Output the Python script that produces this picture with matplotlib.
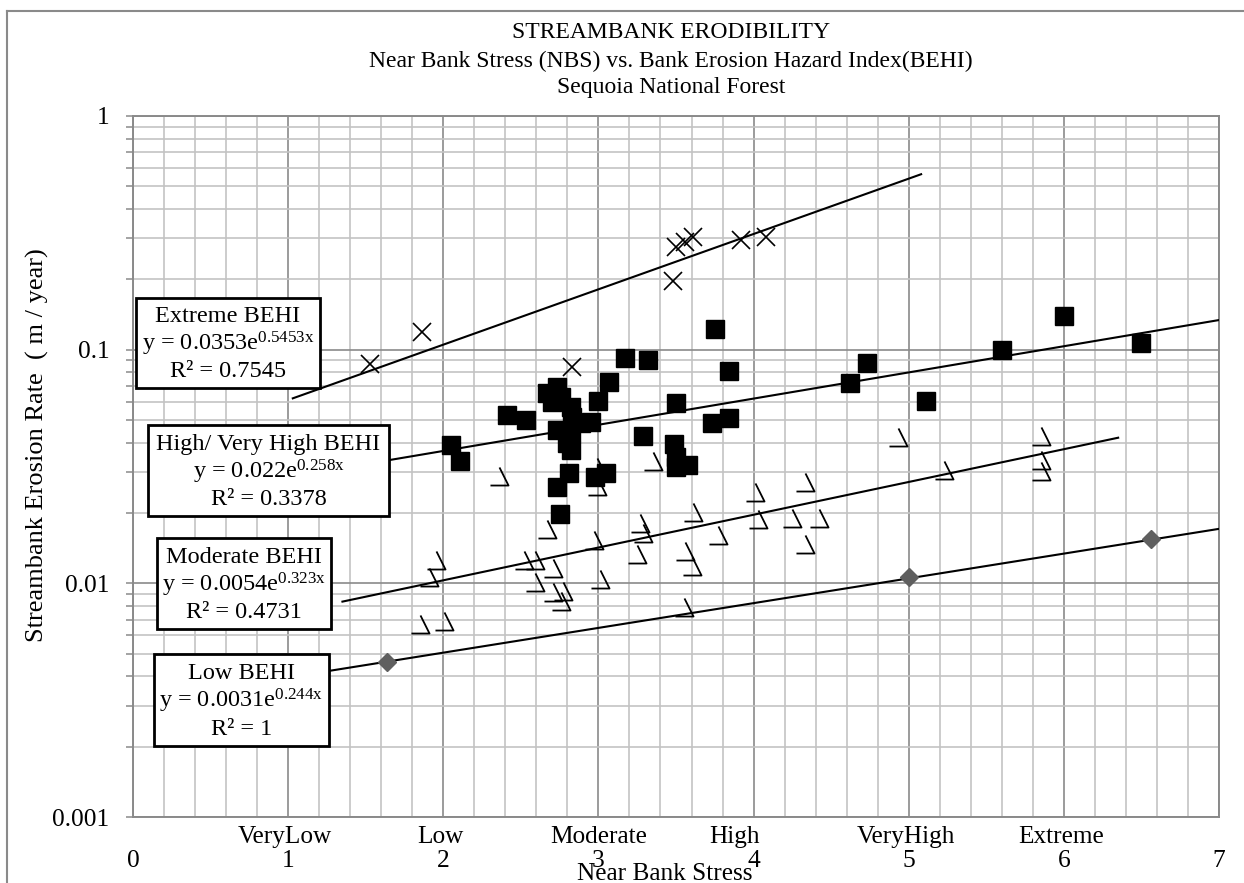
import numpy as np
import matplotlib
matplotlib.use("Agg")
import matplotlib.pyplot as plt
from matplotlib.path import Path
from matplotlib.patches import Rectangle
from matplotlib.lines import Line2D
from matplotlib.ticker import MultipleLocator, FixedLocator, LogLocator, NullFormatter

plt.rcParams['font.family'] = ['Liberation Serif', 'DejaVu Serif']
plt.rcParams['mathtext.fontset'] = 'custom'
plt.rcParams['mathtext.rm'] = 'Liberation Serif'
plt.rcParams['mathtext.it'] = 'Liberation Serif:italic'

# ---------------- data ----------------
title_lines = ["STREAMBANK ERODIBILITY",
               "Near Bank Stress (NBS) vs. Bank Erosion Hazard Index(BEHI)",
               "Sequoia National Forest"]
x_title = "Near Bank Stress"
y_title = "Streambank Erosion Rate  ( m / year)"
x_ticks = [0, 1, 2, 3, 4, 5, 6, 7]
y_ticks = [0.001, 0.01, 0.1, 1]
y_ticklabels = ["0.001", "0.01", "0.1", "1"]
categories = ["VeryLow", "Low", "Moderate", "High", "VeryHigh", "Extreme"]
category_x = [0.98, 1.98, 3.0, 3.88, 4.98, 5.98]

extreme_x = [1.53, 1.86, 2.83, 3.48, 3.50, 3.56, 3.61, 3.92, 4.08]
extreme_y = [0.087, 0.119, 0.084, 0.197, 0.276, 0.290, 0.304, 0.294, 0.303]

high_x = [2.05, 2.11, 2.41, 2.53, 2.67, 2.70, 2.73, 2.76, 2.82, 2.83, 2.73, 2.89,
          2.95, 3.00, 3.07, 3.17, 3.32, 3.75, 3.84, 3.50, 3.73, 3.84, 3.29, 3.49,
          3.50, 3.58, 3.50, 2.82, 2.80, 2.81, 2.73, 2.98, 3.05, 2.75, 2.82,
          4.62, 4.73, 5.11, 5.60, 6.00, 6.50]
high_y = [0.0391, 0.0334, 0.0525, 0.0500, 0.0650, 0.0600, 0.0694, 0.0630, 0.0570, 0.0516, 0.0453, 0.0484,
          0.0490, 0.0605, 0.0727, 0.0924, 0.0903, 0.1226, 0.0810, 0.0589, 0.0484, 0.0508, 0.0428, 0.0394,
          0.0348, 0.0321, 0.0316, 0.0372, 0.0400, 0.0296, 0.0259, 0.0286, 0.0296, 0.0198, 0.0445,
          0.0722, 0.0875, 0.0605, 0.1000, 0.1390, 0.1070]

moderate_x = [1.85, 2.005, 1.91, 1.95, 2.36, 2.52, 2.59, 2.59, 2.67, 2.71, 2.71, 2.77,
              2.76, 2.97, 2.99, 2.99, 3.01, 3.27, 3.29, 3.25, 3.35, 3.61, 3.77, 3.56,
              3.60, 3.55, 4.01, 4.03, 4.25, 4.42, 4.33, 4.33, 4.93, 5.23, 5.85, 5.85, 5.85]
moderate_y = [0.00668, 0.00688, 0.01067, 0.01259, 0.0289, 0.01259, 0.01259, 0.0101, 0.0170, 0.01163, 0.00918, 0.0093,
              0.0084, 0.01537, 0.0261, 0.0316, 0.01047, 0.0181, 0.0164, 0.0133, 0.0333, 0.0201, 0.01605, 0.0138,
              0.01186, 0.00794, 0.0247, 0.0188, 0.0190, 0.0190, 0.0272, 0.0147, 0.0422, 0.0305, 0.0427, 0.0337, 0.0303]

low_x = [1.64, 5.0, 6.56]
low_y = [0.0046, 0.0106, 0.0155]

# trendlines y = a*exp(b*x) drawn over [x_from, x_to]
fit_a = [0.0353, 0.022, 0.0054, 0.0031]
fit_b = [0.5453, 0.258, 0.323, 0.244]
fit_from = [1.03, 1.5, 1.35, 1.1]
fit_to = [5.08, 7.0, 6.35, 7.0]

box_names = ["Extreme BEHI", "High/ Very High BEHI", "Moderate BEHI", "Low BEHI"]
box_coef = ["0.0353", "0.022", "0.0054", "0.0031"]
box_exp = ["0.5453x", "0.258x", "0.323x", "0.244x"]
box_r2 = ["0.7545", "0.3378", "0.4731", "1"]

# ---------------- figure ----------------
W, H = 1244, 883
fig = plt.figure(figsize=(W / 100, H / 100), dpi=100)


def fx(px):
    return px / W


def fy(py):
    return 1 - py / H


L, R, T, B = 133, 1219, 116, 817
ax = fig.add_axes([fx(L), fy(B), (R - L) / W, (B - T) / H])
ax.set_yscale('log')
ax.set_xlim(0, 7)
ax.set_ylim(0.001, 1)

ax.set_axisbelow(True)
ax.xaxis.set_major_locator(FixedLocator(x_ticks))
ax.xaxis.set_minor_locator(MultipleLocator(0.2))
ax.yaxis.set_major_locator(FixedLocator(y_ticks))
ax.yaxis.set_minor_locator(LogLocator(base=10, subs=np.arange(2, 10)))
ax.yaxis.set_minor_formatter(NullFormatter())
ax.set_xticklabels([str(v) for v in x_ticks])
ax.set_yticklabels(y_ticklabels)
ax.grid(which='minor', color='#c3c3c3', lw=1.2)
ax.grid(which='major', color='#8a8a8a', lw=1.2)
ax.tick_params(axis='y', which='both', direction='out', length=5, width=1.1,
               color='#8a8a8a', pad=12, labelsize=18.4)
ax.tick_params(axis='x', which='both', length=0, pad=24, labelsize=18.4)
for s in ax.spines.values():
    s.set_color('#8a8a8a')
    s.set_linewidth(1.4)

# trendlines
for a, b, x0, x1 in zip(fit_a, fit_b, fit_from, fit_to):
    xs = np.linspace(x0, x1, 200)
    ax.plot(xs, a * np.exp(b * xs), color='black', lw=1.5, zorder=3)

# series
mod_marker = Path([(0, 0.5), (0.5, -0.5), (-0.5, -0.5)],
                  [Path.MOVETO, Path.LINETO, Path.LINETO])
ax.plot(moderate_x, moderate_y, ls='none', marker=mod_marker, ms=13,
        mfc='none', mec='black', mew=1.3, zorder=4)
ax.plot(high_x, high_y, ls='none', marker='s', ms=13, mfc='black',
        mec='black', mew=1, zorder=4)
ax.plot(extreme_x, extreme_y, ls='none', marker='x', ms=13, mec='black',
        mew=1.2, zorder=4)
ax.plot(low_x, low_y, ls='none', marker='D', ms=9, mfc='#5f5f5f',
        mec='#5f5f5f', zorder=4)

# category labels under the axis
for name, cx in zip(categories, category_x):
    ax.annotate(name, xy=(cx, 0), xycoords=ax.get_xaxis_transform(),
                xytext=(0, -26 * 0.72), textcoords='offset points',
                ha='center', va='baseline', fontsize=18.2)

# equation boxes (pixel geometry)
box_geom = [(136, 298, 320, 388), (148, 425, 389, 516),
            (157, 538, 331, 629), (154, 654, 329, 746)]
for (x0, y0, x1, y1), name, c, e, r2 in zip(box_geom, box_names, box_coef, box_exp, box_r2):
    ax.add_patch(Rectangle((fx(x0), fy(y1)), fx(x1) - fx(x0), fy(y0) - fy(y1),
                           transform=fig.transFigure, facecolor='white',
                           edgecolor='black', lw=2, clip_on=False, zorder=10))
    cx = (x0 + x1) / 2
    hh = y1 - y0
    texts = [name, "y = " + c + "e$^{\\mathrm{" + e + "}}$", "R² = " + r2]
    for i, t in enumerate(texts):
        yy = y0 + hh * (0.21 + 0.305 * i)
        ax.text(fx(cx), fy(yy), t, transform=fig.transFigure, ha='center',
                va='center', fontsize=17.5, zorder=11, clip_on=False)

# titles
title_base = [38, 67, 93]
for t, yb in zip(title_lines, title_base):
    fig.text(fx(671), fy(yb), t, ha='center', va='baseline', fontsize=17)

fig.text(fx(665), fy(880), x_title, ha='center', va='baseline', fontsize=18.2)
fig.text(fx(37), fy(445), y_title, ha='center', va='center', rotation=90, fontsize=19)

# chart-area border (top and left visible)
fig.add_artist(Line2D([fx(7), fx(7)], [fy(11), 0], transform=fig.transFigure,
                      color='#8a8a8a', lw=1.5))
fig.add_artist(Line2D([fx(7), 1], [fy(11), fy(11)], transform=fig.transFigure,
                      color='#8a8a8a', lw=1.5))

fig.savefig("out.png", dpi=100)
